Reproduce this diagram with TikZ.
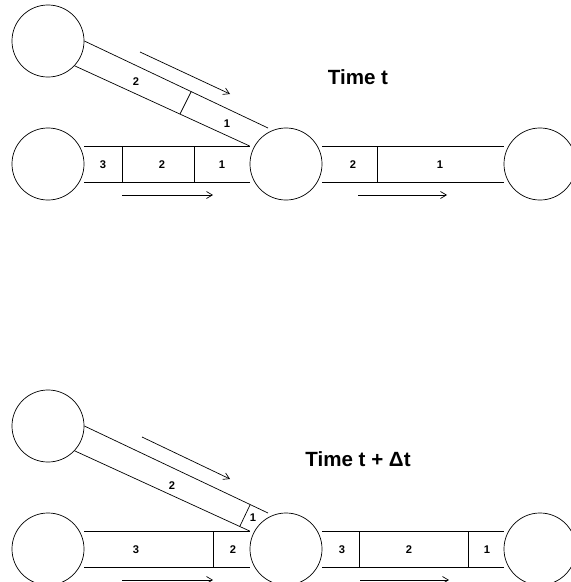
\documentclass[tikz,border=0pt]{standalone}
\usepackage{fontspec}
\setmainfont{Liberation Sans}
\usetikzlibrary{arrows.meta,calc}

\begin{document}
\begin{tikzpicture}[x=0.851pt, y=-0.851pt, line width=0.6pt,
    >={Straight Barb[length=5pt,width=6pt]},
    every node/.style={font=\bfseries\fontsize{9.5}{11}\selectfont},
    junction/.style={draw, circle, minimum size=61.3pt, inner sep=0pt},
    heading/.style={font=\bfseries\fontsize{17.5}{20}\selectfont}]
    \useasboundingbox (0,0) rectangle (570,582);

    % Time t
    \node[heading] (tTitle) at (358,77) {Time t};
    \node[junction] (tUL) at (48,41) {};
    \node[junction] (tLL) at (48,164) {};
    \node[junction] (tM) at (286,164) {};
    \node[junction] (tR) at (540,164) {};

    \draw ($(tLL.east)+(0,-18)$) -- ($(tM.west)+(0,-18)$) coordinate (tJ);
    \draw ($(tLL.east)+(0,18)$) -- ($(tM.west)+(0,18)$);
    \draw (122,146) -- (122,182);
    \draw (194,146) -- (194,182);
    \node (tL3) at (103,165) {3};
    \node (tL2) at (162,165) {2};
    \node (tL1) at (222,165) {1};

    \draw ($(tM.east)+(0,-18)$) -- ($(tR.west)+(0,-18)$);
    \draw ($(tM.east)+(0,18)$) -- ($(tR.west)+(0,18)$);
    \draw (377,146) -- (377,182);
    \node (tR2) at (353,165) {2};
    \node (tR1) at (440,165) {1};

    \coordinate (tD) at (268,128);
    \draw (tUL.east) -- (tD);
    \draw (tUL.-43) -- (tJ);
    \draw (191,92) -- (180,114);
    \node (tD2) at (136,82) {2};
    \node (tD1) at (227,124) {1};

    \draw[->] (140,52) -- (230,94);
    \draw[->] (122,195) -- (213,195);
    \draw[->] (358,195) -- (447,195);

    % Time t + dt
    \node[heading] (dTitle) at (358,459) {Time t + Δt};
    \node[junction] (dUL) at (48,426) {};
    \node[junction] (dLL) at (48,549) {};
    \node[junction] (dM) at (286,549) {};
    \node[junction] (dR) at (540,549) {};

    \draw ($(dLL.east)+(0,-18)$) -- ($(dM.west)+(0,-18)$) coordinate (dJ);
    \draw ($(dLL.east)+(0,18)$) -- ($(dM.west)+(0,18)$);
    \draw (213,531) -- (213,567);
    \node (dL3) at (136,550) {3};
    \node (dL2) at (233,550) {2};

    \draw ($(dM.east)+(0,-18)$) -- ($(dR.west)+(0,-18)$);
    \draw ($(dM.east)+(0,18)$) -- ($(dR.west)+(0,18)$);
    \draw (359,531) -- (359,567);
    \draw (468,531) -- (468,567);
    \node (dR3) at (342,550) {3};
    \node (dR2) at (409,550) {2};
    \node (dR1) at (487,550) {1};

    \coordinate (dD) at (268,513);
    \draw (dUL.east) -- (dD);
    \draw (dUL.-43) -- (dJ);
    \draw (250,505) -- (240,526);
    \node (dD2) at (172,486) {2};
    \node (dD1) at (253,518) {1};

    \draw[->] (142,437) -- (230,479);
    \draw[->] (122,580) -- (213,580);
    \draw[->] (360,580) -- (449,580);
\end{tikzpicture}
\end{document}
